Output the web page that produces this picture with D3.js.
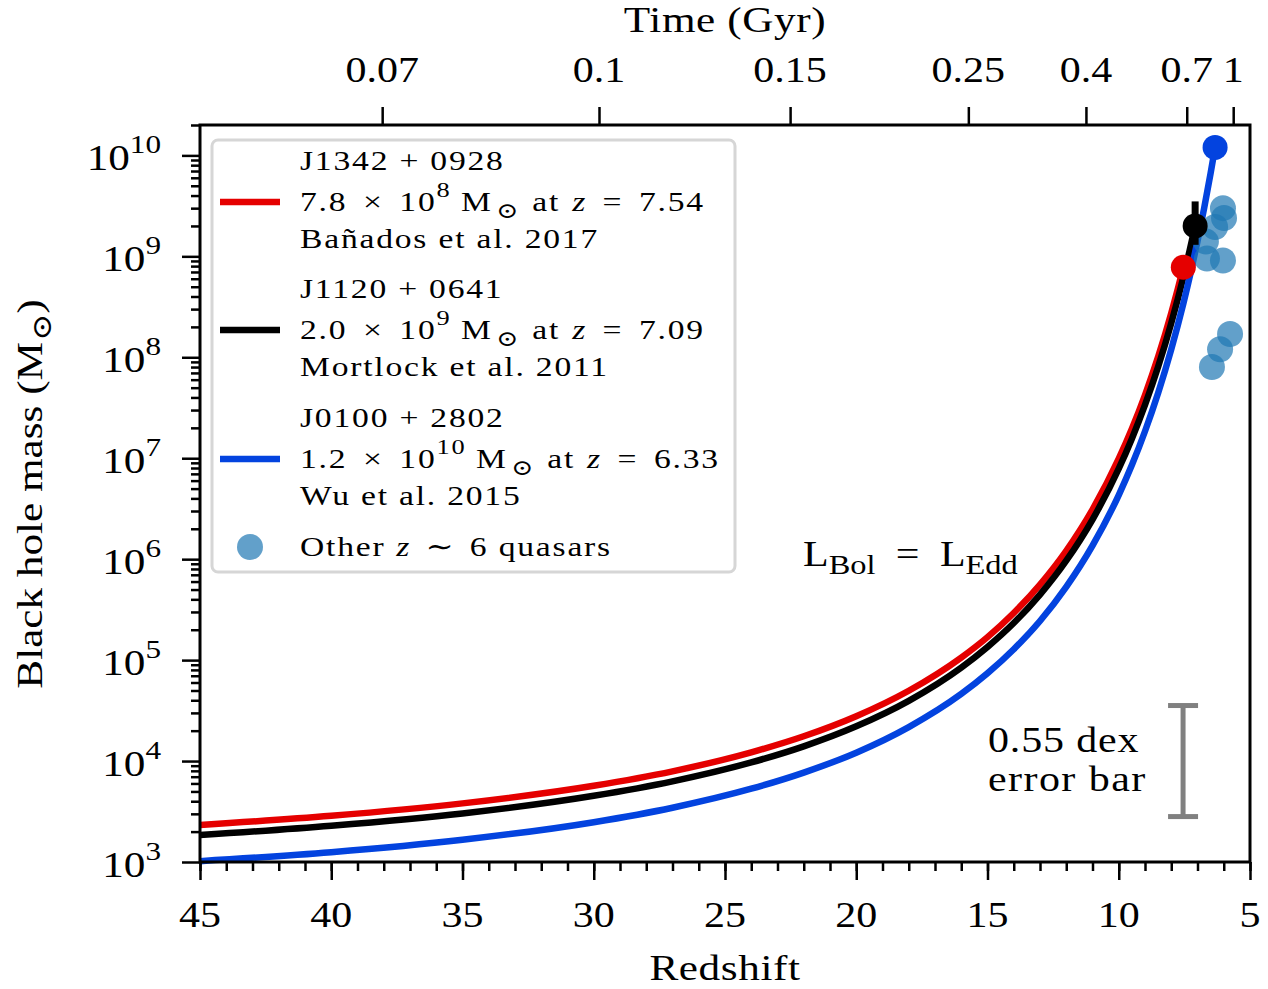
<!DOCTYPE html>
<html>
<head>
<meta charset="utf-8">
<title>Black hole growth</title>
<style>
  html, body { margin: 0; padding: 0; background: #fff; }
  svg text { font-family: "Liberation Serif", "DejaVu Serif", serif; fill: #000; }
</style>
</head>
<body>
<div id="chart"></div>
<script src="https://cdn.jsdelivr.net/npm/d3@7/dist/d3.min.js"></script>
<script>

// Redshift grid and masses (Msun)
var redZ    = [45, 40, 35, 30, 27, 24, 22, 20, 18, 16, 15, 14, 13, 12, 11, 10, 9.5, 9, 8.5, 8, 7.75, 7.54]
var redMass = [2.33e3, 2.87e3, 3.81e3, 5.69e3, 7.91e3, 1.22e4, 1.76e4, 2.78e4, 4.97e4, 1.06e5, 1.69e5,
               2.93e5, 5.60e5, 1.21e6, 3.10e6, 9.89e6, 1.96e7, 4.23e7, 1.01e8, 2.74e8, 4.76e8, 7.8e8]

var blackZ    = [45, 40, 35, 30, 27, 24, 22, 20, 18, 16, 15, 14, 13, 12, 11, 10, 9.5, 9, 8.5, 8, 7.75, 7.54, 7.3, 7.09]
var blackMass = [1.85e3, 2.29e3, 3.03e3, 4.53e3, 6.30e3, 9.70e3, 1.40e4, 2.21e4, 3.95e4, 8.43e4, 1.35e5,
                 2.33e5, 4.46e5, 9.66e5, 2.47e6, 7.87e6, 1.56e7, 3.37e7, 8.05e7, 2.18e8, 3.79e8, 6.21e8, 1.14e9, 2.0e9]

var blueZ    = [45, 40, 35, 30, 27, 24, 22, 20, 18, 16, 15, 14, 13, 12, 11, 10, 9.5, 9, 8.5, 8, 7.54, 7.25, 7, 6.75, 6.5, 6.33]
var blueMass = [1.02e3, 1.25e3, 1.66e3, 2.48e3, 3.45e3, 5.32e3, 7.69e3, 1.21e4, 2.17e4, 4.62e4, 7.40e4,
                1.28e5, 2.44e5, 5.31e5, 1.36e6, 4.32e6, 8.55e6, 1.85e7, 4.43e7, 1.20e8, 3.40e8, 7.08e8,
                1.41e9, 2.97e9, 6.66e9, 1.2e10]

// the three named quasars
var qsoNames  = ["J1342 + 0928", "J1120 + 0641", "J0100 + 2802"]
var qsoMant   = ["7.8", "2.0", "1.2"]
var qsoExp    = ["8", "9", "10"]
var qsoZ      = [7.54, 7.09, 6.33]
var qsoMass   = [7.8e8, 2.0e9, 1.2e10]
var qsoRefs   = ["Bañados et al. 2017", "Mortlock et al. 2011", "Wu et al. 2015"]
var qsoColors = ["#e50000", "#000000", "#0343df"]

// Mortlock error bar on J1120+0641
var mortlockErr = [1.3e9, 3.5e9]

// other z~6 quasars
var otherZ    = [6.03, 5.99, 6.33, 6.68, 6.64, 6.03, 5.76, 6.14, 6.45]
var otherMass = [3.0e9, 2.4e9, 1.95e9, 1.4e9, 9.5e8, 9.1e8, 1.7e8, 1.2e8, 8.0e7]

// ticks
var zTicks      = [45, 40, 35, 30, 25, 20, 15, 10, 5]
var zMinor      = d3.range(5, 46, 1)
var timeLabels  = ["0.07", "0.1", "0.15", "0.25", "0.4", "0.7", "1"]
var timeTickZ   = [38.06, 29.80, 22.52, 15.73, 11.25, 7.41, 5.64]
var massExps    = [3, 4, 5, 6, 7, 8, 9, 10]

// 0.55 dex error bar
var errBarZ = 7.55, errCenter = 1e4, errDex = 0.55


var W = 1268, H = 989
var L = 200, R = 1250, T = 125, B = 862
var SX = 1.2   // horizontal stretch of the text

var svg = d3.select("#chart").append("svg")
  .attr("width", W)
  .attr("height", H)

var x = d3.scaleLinear().domain([45, 5]).range([L, R])
var y = d3.scaleLog().domain([1e3, 2e10]).range([B, T])

function stext(g, px, py, size, anchor) {
  return g.append("text")
    .attr("transform", "translate(" + px + "," + py + ") scale(" + SX + ",1)")
    .attr("text-anchor", anchor || "start")
    .style("font-size", size + "px")
}

// Curves
var line = d3.line()
  .x(function(d) { return x(d[0]) })
  .y(function(d) { return y(d[1]) })
  .curve(d3.curveMonotoneX)

var curves = [d3.zip(redZ, redMass), d3.zip(blackZ, blackMass), d3.zip(blueZ, blueMass)]

svg.append("g").selectAll("path")
  .data(curves)
  .enter()
  .append("path")
  .attr("d", line)
  .attr("fill", "none")
  .attr("stroke", function(d, i) { return qsoColors[i] })
  .attr("stroke-width", 6.5)

// other quasars
svg.append("g").selectAll("circle")
  .data(d3.zip(otherZ, otherMass))
  .enter()
  .append("circle")
  .attr("cx", function(d) { return x(d[0]) })
  .attr("cy", function(d) { return y(d[1]) })
  .attr("r", 13)
  .attr("fill", "#1f77b4")
  .attr("fill-opacity", 0.7)

// Mortlock error bar
svg.append("line")
  .attr("x1", x(qsoZ[1])).attr("x2", x(qsoZ[1]))
  .attr("y1", y(mortlockErr[0])).attr("y2", y(mortlockErr[1]))
  .attr("stroke", "#000")
  .attr("stroke-width", 7)

// named quasar markers
svg.append("g").selectAll("circle")
  .data(qsoZ)
  .enter()
  .append("circle")
  .attr("cx", function(d) { return x(d) })
  .attr("cy", function(d, i) { return y(qsoMass[i]) })
  .attr("r", 12.5)
  .attr("fill", function(d, i) { return qsoColors[i] })

// gray 0.55 dex bar
var eb = svg.append("g").attr("stroke", "#808080").attr("stroke-width", 5)
var ebTop = y(errCenter * Math.pow(10, errDex)), ebBot = y(errCenter / Math.pow(10, errDex))
eb.append("line").attr("x1", x(errBarZ)).attr("x2", x(errBarZ)).attr("y1", ebTop).attr("y2", ebBot)
eb.append("line").attr("x1", x(errBarZ) - 15).attr("x2", x(errBarZ) + 15).attr("y1", ebTop).attr("y2", ebTop)
eb.append("line").attr("x1", x(errBarZ) - 15).attr("x2", x(errBarZ) + 15).attr("y1", ebBot).attr("y2", ebBot)

stext(svg, 988, 752, 35).style("letter-spacing", "0.7px").text("0.55 dex")
stext(svg, 988, 791, 35).style("letter-spacing", "1.2px").text("error bar")

// L_Bol = L_Edd
var lt = stext(svg, 803, 566, 35)
lt.append("tspan").text("L")
lt.append("tspan").attr("dy", 8).style("font-size", "27px").text("Bol")
lt.append("tspan").attr("dy", -8).attr("dx", 17).text("=")
lt.append("tspan").attr("dx", 17).text("L")
lt.append("tspan").attr("dy", 8).style("font-size", "27px").text("Edd")


// Axes
function styleAxis(g) {
  g.select(".domain").remove()
  g.selectAll(".tick line").attr("stroke", "#000").attr("stroke-width", 2.5)
  g.selectAll(".tick text").remove()
}

svg.append("g")
  .attr("transform", "translate(0," + B + ")")
  .call(d3.axisBottom(x).tickValues(zMinor).tickSize(9).tickSizeOuter(0))
  .call(styleAxis)

svg.append("g")
  .attr("transform", "translate(0," + B + ")")
  .call(d3.axisBottom(x).tickValues(zTicks).tickSize(18).tickSizeOuter(0))
  .call(styleAxis)

svg.append("g")
  .attr("transform", "translate(0," + T + ")")
  .call(d3.axisTop(x).tickValues(timeTickZ).tickSize(18).tickSizeOuter(0))
  .call(styleAxis)

var yMinor = []
massExps.forEach(function(e) {
  for (var k = 2; k <= 9; k++) {
    var v = k * Math.pow(10, e)
    if (v <= 2e10) yMinor.push(v)
  }
})

svg.append("g")
  .attr("transform", "translate(" + L + ",0)")
  .call(d3.axisLeft(y).tickValues(yMinor).tickSize(9).tickSizeOuter(0))
  .call(styleAxis)

svg.append("g")
  .attr("transform", "translate(" + L + ",0)")
  .call(d3.axisLeft(y).tickValues(massExps.map(function(e) { return Math.pow(10, e) })).tickSize(18).tickSizeOuter(0))
  .call(styleAxis)

// tick labels
zTicks.forEach(function(z) {
  stext(svg, x(z), 927, 35, "middle").text(z)
})

timeLabels.forEach(function(t, i) {
  stext(svg, x(timeTickZ[i]), 82, 35, "middle").text(t)
})

massExps.forEach(function(e) {
  var t = stext(svg, 161, y(Math.pow(10, e)) + 15, 36, "end")
  t.append("tspan").text("10")
  t.append("tspan").attr("dy", -17).style("font-size", "26px").text(e)
})

// axis titles
stext(svg, (L + R) / 2, 980, 36, "middle").style("letter-spacing", "0.5px").text("Redshift")
stext(svg, (L + R) / 2, 32, 36, "middle").style("letter-spacing", "0.5px").text("Time (Gyr)")

var yl = svg.append("text")
  .attr("transform", "translate(42,494) rotate(-90) scale(" + SX + ",1)")
  .attr("text-anchor", "middle")
  .style("font-size", "36px")
yl.append("tspan").text("Black hole mass (M")
yl.append("tspan").attr("dy", 9).attr("dx", 1).style("font-size", "27px").text("⊙")
yl.append("tspan").attr("dy", -9).text(")")

// frame
svg.append("rect")
  .attr("x", L).attr("y", T)
  .attr("width", R - L).attr("height", B - T)
  .attr("fill", "none")
  .attr("stroke", "#000")
  .attr("stroke-width", 3)


// Legend
var leg = svg.append("g")

leg.append("rect")
  .attr("x", 212).attr("y", 140)
  .attr("width", 523).attr("height", 432)
  .attr("rx", 6)
  .attr("fill", "#fff")
  .attr("stroke", "#d6d6d6")
  .attr("stroke-width", 3)

var rowY = [170, 298, 427]
var LS = 1.5  // letter spacing

qsoNames.forEach(function(name, i) {
  var y0 = rowY[i]
  leg.append("line")
    .attr("x1", 220).attr("x2", 280)
    .attr("y1", y0 + 32).attr("y2", y0 + 32)
    .attr("stroke", qsoColors[i])
    .attr("stroke-width", 6.5)

  stext(leg, 300, y0, 28).style("letter-spacing", LS + "px").text(name)

  var t = stext(leg, 300, y0 + 41, 28).style("letter-spacing", LS + "px")
  t.append("tspan").text(qsoMant[i])
  t.append("tspan").attr("dx", 13).text("×")
  t.append("tspan").attr("dx", 13).text("10")
  t.append("tspan").attr("dy", -14).style("font-size", "22px").text(qsoExp[i])
  t.append("tspan").attr("dy", 14).attr("dx", 8).text("M")
  t.append("tspan").attr("dy", 7).attr("dx", 3).style("font-size", "22px").text("⊙")
  t.append("tspan").attr("dy", -7).attr("dx", 10).text("at")
  t.append("tspan").attr("dx", 10).style("font-style", "italic").text("z")
  t.append("tspan").attr("dx", 13).text("=")
  t.append("tspan").attr("dx", 13).text(qsoZ[i].toFixed(2))

  stext(leg, 300, y0 + 78, 28).style("letter-spacing", LS + "px").text(qsoRefs[i])
})

leg.append("circle")
  .attr("cx", 250).attr("cy", 547)
  .attr("r", 13)
  .attr("fill", "#1f77b4")
  .attr("fill-opacity", 0.7)

var ot = stext(leg, 300, 556, 28).style("letter-spacing", LS + "px")
ot.append("tspan").text("Other")
ot.append("tspan").attr("dx", 9).style("font-style", "italic").text("z")
ot.append("tspan").attr("dx", 12).text("∼")
ot.append("tspan").attr("dx", 12).text("6 quasars")

</script>
</body>
</html>
